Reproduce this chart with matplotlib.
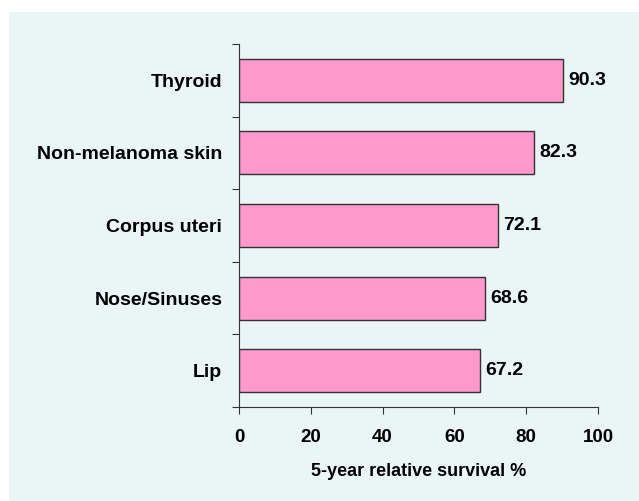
import matplotlib.pyplot as plt
from matplotlib.patches import Rectangle

categories = ["Lip", "Nose/Sinuses", "Corpus uteri", "Non-melanoma skin", "Thyroid"]
survival = [67.2, 68.6, 72.1, 82.3, 90.3]
xticks = [0, 20, 40, 60, 80, 100]

plt.rcParams["font.family"] = ["Liberation Sans", "DejaVu Sans"]
plt.rcParams["font.weight"] = "bold"

fig = plt.figure(figsize=(6.39, 5.01), dpi=100)
fig.patch.set_facecolor("white")
fig.patches.append(Rectangle((9 / 639, 0), 1, 1 - 12 / 501, transform=fig.transFigure,
                             facecolor="#EAF6F6", edgecolor="none", zorder=-10))

ax = fig.add_axes([239 / 639, 94 / 501, 359 / 639, 363 / 501])
ax.set_facecolor("none")

pos = range(len(categories))
ax.barh(pos, survival, height=0.59, color="#FF99CC", edgecolor="#333333", linewidth=1)
for p, v in zip(pos, survival):
    ax.text(v + 1.4, p, f"{v:.1f}", va="center", ha="left", fontsize=14, fontweight="bold")

ax.set_xlim(0, 100)
ax.set_ylim(-0.5, len(categories) - 0.5)
ax.set_xticks(xticks)
ax.set_xticklabels([str(t) for t in xticks], fontsize=13.5, fontweight="bold")
ax.set_yticks([p - 0.5 for p in range(len(categories) + 1)])
ax.set_yticklabels([])
ax.set_yticks(list(pos), minor=True)
ax.set_yticklabels(categories, minor=True, fontsize=14, fontweight="bold")
ax.tick_params(axis="y", which="minor", length=0, pad=12)
ax.tick_params(axis="y", which="major", length=5, color="#333333")
ax.tick_params(axis="x", length=5, color="#333333", pad=11)

for s in ["top", "right"]:
    ax.spines[s].set_visible(False)
for s in ["left", "bottom"]:
    ax.spines[s].set_color("#333333")

ax.set_xlabel("5-year relative survival %", fontsize=13, fontweight="bold", labelpad=12)

fig.savefig("out.png", dpi=100)
